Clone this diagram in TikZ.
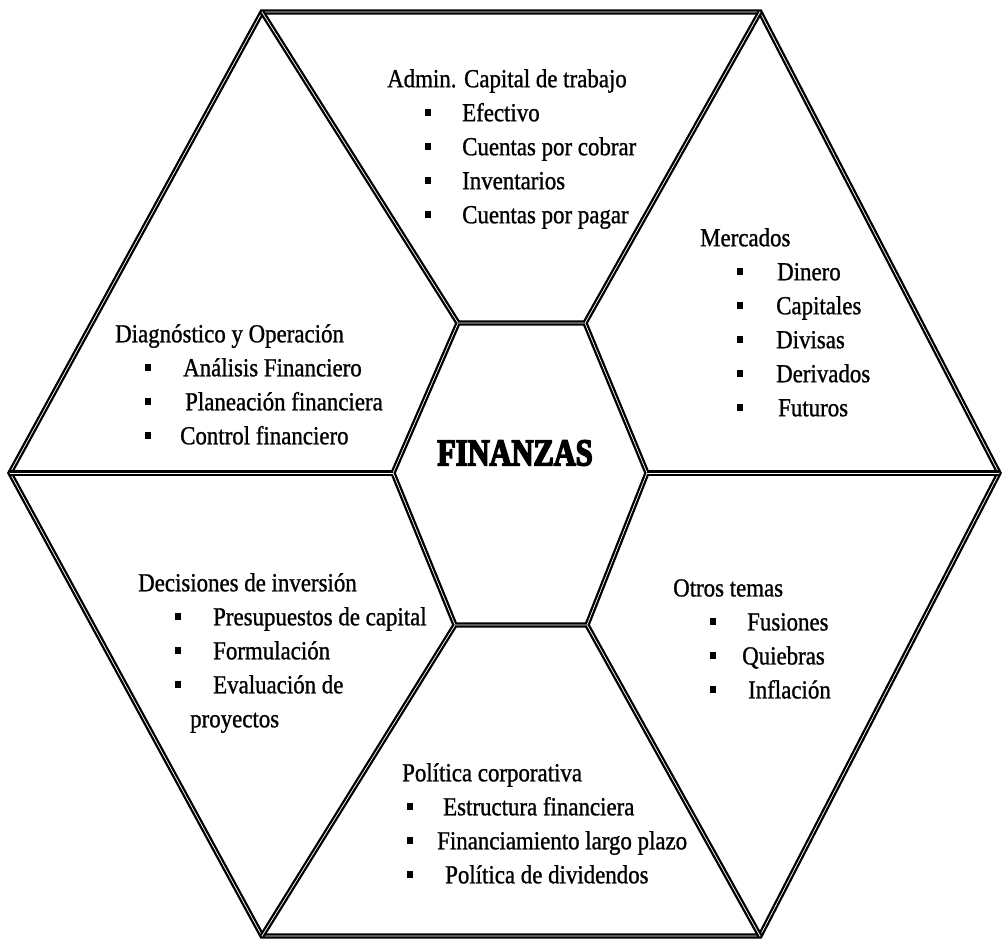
\documentclass[tikz,border=0pt]{standalone}
\usepackage{fontspec}
\setmainfont{Liberation Serif}[FakeStretch=0.88,FakeBold=1]
\newfontfamily\heavyfont{Liberation Serif}[UprightFont=* Bold,FakeBold=4,FakeStretch=0.8]

% square bullet and one indented list line
\newcommand\bul{\raisebox{5.5pt}{\rule{6pt}{7pt}}}
\newcommand\itm[3]{\makebox[#2][l]{\hspace*{#1}\bul}#3}

\begin{document}
\begin{tikzpicture}[
  x=1pt,y=-1pt,
  rim/.style={draw,line width=2.3pt,double=white,double distance=0.7pt,line join=miter},
  panel/.style={anchor=north west,inner sep=0pt,align=left,
                font=\fontsize{26}{34}\selectfont},
]
\useasboundingbox (0,0) rectangle (1004,943);

%% ===== Hexagon corners =======================================================
\coordinate (o1) at (262,12);  \coordinate (o2) at (760,12);
\coordinate (o3) at (999,473); \coordinate (o4) at (760,936);
\coordinate (o5) at (262,936); \coordinate (o6) at (10,473);

\coordinate (i1) at (458,323); \coordinate (i2) at (585,323);
\coordinate (i3) at (647,473); \coordinate (i4) at (587,625);
\coordinate (i5) at (455,625); \coordinate (i6) at (393,473);

%% ===== Frame =================================================================
\draw[rim] (o1) -- (o2) -- (o3) -- (o4) -- (o5) -- (o6) -- cycle;
\draw[rim] (i1) -- (i2) -- (i3) -- (i4) -- (i5) -- (i6) -- cycle;
\foreach \k in {1,...,6} {
  \draw[rim] (o\k) -- (i\k);
}

%% ===== Centre ================================================================
\node[font=\heavyfont\fontsize{38}{38}\selectfont] (core) at (515,453) {FINANZAS};

%% ===== Panels ================================================================
\node[panel] (admin) at (387,69)
      {Admin. Capital de trabajo\\
       \itm{38pt}{75pt}{Efectivo}\\
       \itm{38pt}{75pt}{Cuentas por cobrar}\\
       \itm{38pt}{75pt}{Inventarios}\\
       \itm{38pt}{75pt}{Cuentas por pagar}};

\node[panel] (mercados) at (700,228)
      {Mercados\\
       \itm{37pt}{77pt}{Dinero}\\
       \itm{37pt}{76pt}{Capitales}\\
       \itm{37pt}{76pt}{Divisas}\\
       \itm{37pt}{76pt}{Derivados}\\
       \itm{37pt}{78pt}{Futuros}};

\node[panel] (diag) at (115,324)
      {Diagnóstico y Operación\\
       \itm{30pt}{68pt}{Análisis Financiero}\\
       \itm{30pt}{70pt}{Planeación financiera}\\
       \itm{30pt}{65pt}{Control financiero}};

\node[panel] (inversion) at (138,573)
      {Decisiones de inversión\\
       \itm{37pt}{75pt}{Presupuestos de capital}\\
       \itm{37pt}{75pt}{Formulación}\\
       \itm{37pt}{75pt}{Evaluación de}\\
       \hspace*{52pt}proyectos};

\node[panel] (otros) at (673,579)
      {Otros temas\\
       \itm{37pt}{74pt}{Fusiones}\\
       \itm{37pt}{69pt}{Quiebras}\\
       \itm{37pt}{75pt}{Inflación}};

\node[panel] (politica) at (402,763)
      {Política corporativa\\
       \itm{5pt}{41pt}{Estructura financiera}\\
       \itm{5pt}{35pt}{Financiamiento largo plazo}\\
       \itm{5pt}{43pt}{Política de dividendos}};

\end{tikzpicture}
\end{document}
